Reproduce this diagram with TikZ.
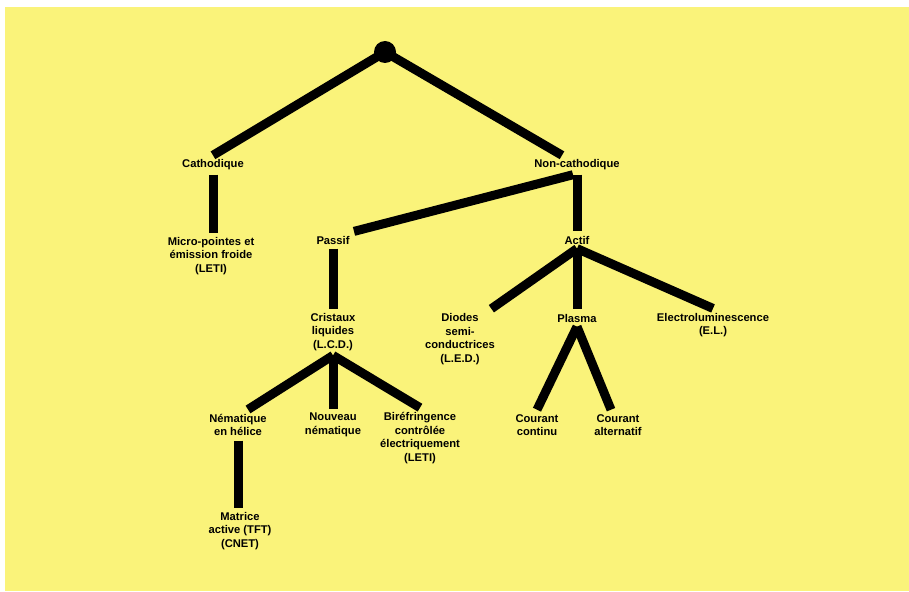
\documentclass[tikz,border=0pt]{standalone}
\usepackage{fontspec}
\setmainfont{Liberation Sans}
\tikzset{
    term/.style = {
        font=\fontsize{11.2}{13.7}\selectfont\bfseries,
        align=center,
        inner sep=1pt,
        outer sep=3.5pt,
    },
    branch/.style = {
        line width=9pt,
    },
    root dot/.style = {
        circle,
        fill=black,
        minimum size=22pt,
        inner sep=0,
    },
}
\definecolor{paper}{RGB}{250,243,122}

\begin{document}
\begin{tikzpicture}[x=1pt,y=-1pt]

    \useasboundingbox (0,0) rectangle (909,591);
    \fill[white] (0,0) rectangle (909,591);
    \fill[paper] (5,7) rectangle (909,591);

    % root
    \node[root dot] (root) at (385,52) {};

    % first level
    \node[term] (cath) at (213,165) {Cathodique};
    \node[term] (nc) at (577,165) {Non-cathodique};

    % second level
    \node[term] (micro) at (211,256) {Micro-pointes et\\émission froide\\(LETI)};
    \node[term] (passif) at (333,240) {Passif};
    \node[term] (actif) at (577,240) {Actif};

    % third level
    \node[term] (lcd) at (333,332) {Cristaux\\liquides\\(L.C.D.)};
    \node[term] (diodes) at (460,339) {Diodes\\semi-\\conductrices\\(L.E.D.)};
    \node[term] (plasma) at (577,318) {Plasma};
    \node[term] (el) at (713,325) {Electroluminescence\\(E.L.)};

    % fourth level
    \node[term] (nemat) at (238,425) {Nématique\\en hélice};
    \node[term] (nouveau) at (333,425) {Nouveau\\nématique};
    \node[term] (bire) at (420,438) {Biréfringence\\contrôlée\\électriquement\\(LETI)};
    \node[term] (cc) at (537,425) {Courant\\continu};
    \node[term] (ca) at (618,425) {Courant\\alternatif};

    % fifth level
    \node[term] (tft) at (240,531) {Matrice\\active (TFT)\\(CNET)};

    % branches from the root
    \draw[branch] (root.center) -- (cath.north);
    \draw[branch] (root.center) -- ([xshift=-15pt]nc.north);

    % straight stems
    \draw[branch] (cath.south) -- (cath.south |- micro.north);
    \draw[branch] (nc.south) -- (nc.south |- actif.north);
    \draw[branch] (passif.south) -- (passif.south |- lcd.north);
    \draw[branch] (nemat.south) -- (nemat.south |- tft.north);

    % non-cathodique to passif
    \draw[branch] ([xshift=-4pt]nc.south) -- (passif.north east);

    % fans
    \draw[branch] (actif.south) -- ([xshift=-8pt]diodes.north east);
    \foreach \b in {plasma, el} {
        \draw[branch] (actif.south) -- (\b.north);
    }
    \draw[branch] (lcd.south) -- ([xshift=10pt]nemat.north);
    \foreach \b in {nouveau, bire} {
        \draw[branch] (lcd.south) -- (\b.north);
    }
    \draw[branch] (plasma.south) -- (cc.north);
    \draw[branch] (plasma.south) -- ([xshift=-7pt]ca.north);

\end{tikzpicture}
\end{document}
